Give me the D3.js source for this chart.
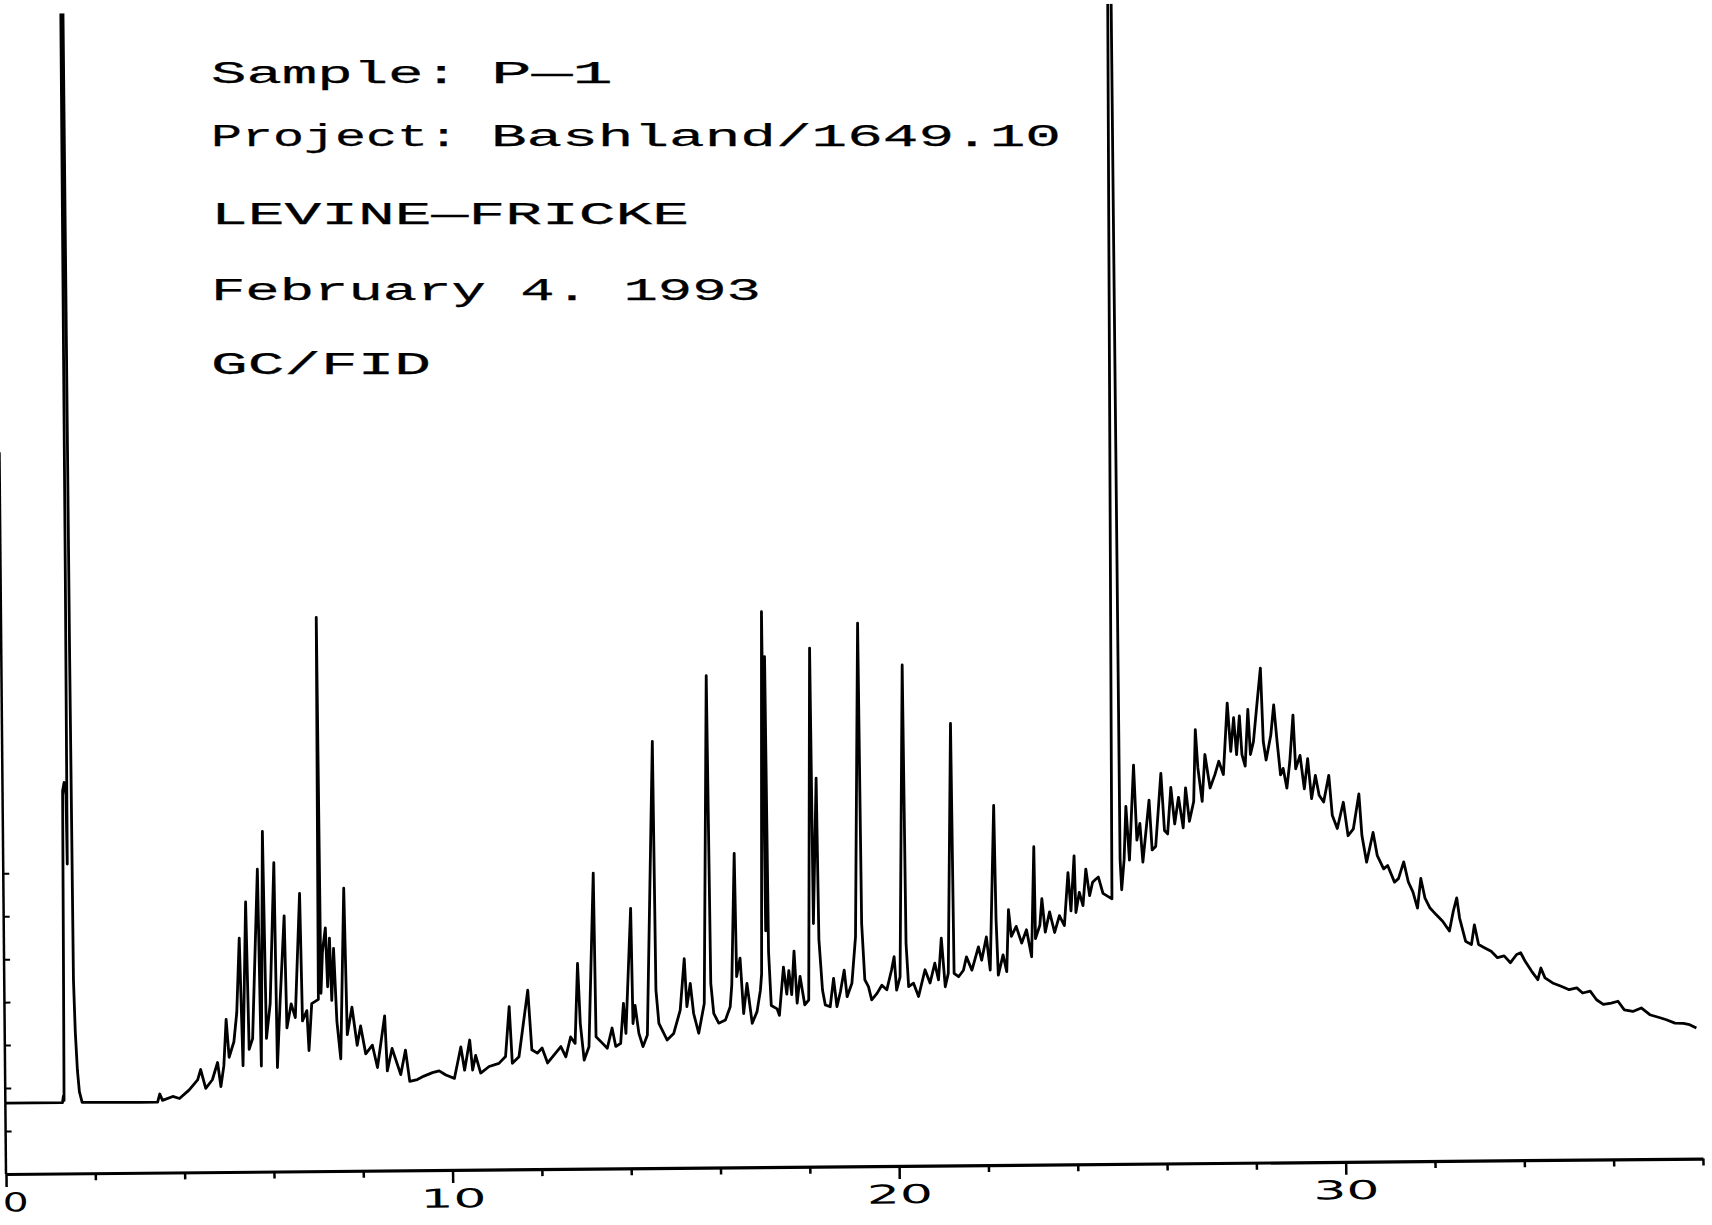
<!DOCTYPE html>
<html>
<head>
<meta charset="utf-8">
<script src="https://cdn.jsdelivr.net/npm/d3@7"></script>
<style>
  body { margin: 0; background: #fff; }
  svg { display: block; background: #fff; }
</style>
</head>
<body>
<div class="chromatogram"></div>
<script>
// ---- Data
// retention time (min) and detector response (arbitrary units)
const retentionTime = [
  0.00,1.28,1.30,1.315,1.33,1.345,1.38,1.42,1.435,1.45,
  1.465,1.51,1.53,1.55,1.58,1.62,1.66,1.72,3.00,3.41,
  3.46,3.52,3.75,3.90,4.12,4.31,4.38,4.49,4.64,4.76,
  4.83,4.90,4.96,5.02,5.13,5.20,5.27,5.33,5.42,5.47,
  5.55,5.69,5.74,5.81,5.86,5.95,6.06,6.10,6.17,6.28,
  6.32,6.42,6.51,6.63,6.67,6.77,6.81,6.88,7.03,7.06,
  7.09,7.13,7.20,7.24,7.29,7.33,7.38,7.44,7.52,7.62,
  7.67,7.78,7.89,7.97,8.08,8.23,8.34,8.51,8.56,8.67,
  8.86,8.97,9.06,9.23,9.38,9.57,9.72,9.87,10.06,10.21,
  10.29,10.41,10.47,10.54,10.65,10.84,11.06,11.21,11.30,11.36,
  11.51,11.72,11.80,11.92,12.03,12.15,12.33,12.45,12.56,12.67,
  12.77,12.84,12.89,12.97,13.08,13.21,13.24,13.38,13.49,13.60,
  13.68,13.79,13.86,13.91,14.04,14.07,14.12,14.20,14.29,14.39,
  14.56,14.59,14.65,14.83,14.98,15.13,15.23,15.28,15.36,15.43,
  15.54,15.67,15.78,15.82,15.88,15.99,16.14,16.25,16.29,16.37,
  16.40,16.48,16.55,16.63,16.74,16.85,16.93,16.96,17.03,17.06,
  17.09,17.12,17.17,17.30,17.35,17.45,17.52,17.57,17.63,17.69,
  17.75,17.82,17.92,18.01,18.10,18.13,18.22,18.25,18.32,18.38,
  18.49,18.57,18.64,18.72,18.81,18.87,18.98,19.07,19.18,19.21,
  19.27,19.35,19.42,19.54,19.65,19.76,19.87,19.93,19.98,20.06,
  20.17,20.20,20.25,20.36,20.47,20.62,20.73,20.84,20.92,20.99,
  21.07,21.14,21.24,21.27,21.37,21.48,21.55,21.67,21.82,21.89,
  22.00,22.08,22.19,22.22,22.26,22.37,22.45,22.50,22.56,22.67,
  22.79,22.90,23.01,23.08,23.10,23.20,23.25,23.32,23.42,23.53,
  23.64,23.75,23.84,23.90,23.98,24.01,24.09,24.17,24.24,24.32,
  24.39,24.46,24.52,24.62,24.82,24.92,24.98,25.01,25.04,25.10,
  25.15,25.22,25.33,25.39,25.46,25.52,25.67,25.73,25.81,25.94,
  26.01,26.08,26.16,26.24,26.33,26.43,26.49,26.57,26.67,26.72,
  26.77,26.86,26.93,27.04,27.15,27.24,27.34,27.44,27.51,27.58,
  27.64,27.71,27.76,27.83,27.90,27.95,28.02,28.10,28.19,28.24,
  28.30,28.41,28.48,28.55,28.62,28.68,28.76,28.83,28.91,28.96,
  29.06,29.15,29.23,29.31,29.40,29.48,29.58,29.70,29.77,29.88,
  30.02,30.12,30.24,30.37,30.43,30.53,30.68,30.77,30.91,31.00,
  31.15,31.24,31.36,31.46,31.56,31.66,31.74,31.83,31.94,32.08,
  32.22,32.37,32.46,32.54,32.60,32.73,32.86,32.93,33.02,33.16,
  33.30,33.44,33.59,33.73,33.87,33.96,34.06,34.20,34.34,34.41,
  34.50,34.67,34.86,35.04,35.21,35.34,35.51,35.65,35.80,35.98,
  36.13,36.27,36.46,36.65,36.84,37.03,37.21,37.40,37.59,37.73,
  37.88
];

const response = [
  16.5,16.5,18.0,17.0,50,89,91,88,72,140,
  290,290,120,45,33,24,19,16.5,16.4,16.4,
  18.3,16.8,17.7,17.2,19.2,21.5,23.9,19.5,21.5,25.5,
  19.9,24.7,35.5,26.7,30.3,37.1,54.4,24.7,62.8,28.5,
  31.0,70.4,24.6,79.2,31.0,39.1,71.9,24.2,39.0,59.5,
  33.4,39.0,35.8,64.7,35.0,37.4,28.1,39.0,40.0,128.9,
  41.4,51.0,56.6,42.9,54.2,39.7,51.8,34.9,26.1,65.8,
  31.7,38.1,29.2,33.7,27.2,29.2,24.0,36.0,23.2,28.4,
  22.3,28.0,20.7,21.1,21.9,22.7,23.1,22.1,21.3,28.6,
  23.2,30.2,23.2,26.6,22.5,24.0,24.7,26.3,37.9,24.7,
  26.2,41.7,27.8,27.0,28.2,24.7,27.0,28.5,26.1,30.7,
  29.2,47.8,33.8,25.3,28.4,68.8,30.7,29.2,28.0,32.7,
  28.4,29.1,38.4,31.4,60.5,33.7,37.9,31.4,28.3,31.0,
  99.3,41.5,33.7,29.8,31.3,36.7,48.7,37.5,42.9,35.9,
  31.3,38.2,114.5,42.9,35.9,33.6,34.3,37.4,42.5,73.1,
  44.4,48.7,35.8,42.8,33.5,36.2,41.2,45.0,129.3,55.0,
  118.8,50.1,37.6,36.8,35.3,46.5,40.2,45.7,40.1,50.2,
  38.1,44.3,37.7,38.8,120.7,56.6,90.4,52.8,41.1,37.6,
  37.2,43.8,37.2,40.6,45.7,39.5,42.6,53.4,126.4,56.5,
  43.4,41.8,38.7,40.2,42.1,41.0,45.6,48.7,40.9,44.0,
  116.6,51.8,41.7,42.5,39.4,45.6,42.5,47.1,43.2,52.9,
  41.6,44.7,102.9,44.7,43.9,45.4,48.5,45.4,50.8,47.7,
  53.1,45.4,83.7,57.3,44.2,48.9,45.0,59.4,53.2,55.5,
  51.6,54.7,48.4,74.0,52.6,55.7,61.9,54.1,58.8,54.0,
  57.9,55.6,67.9,59.0,71.8,58.6,63.3,60.2,68.7,62.5,
  65.6,66.3,66.8,63.0,61.7,300,300,70.8,63.8,70.8,
  83.2,70.7,92.8,75.3,79.2,70.2,84.6,73.0,73.8,90.8,
  77.5,76.7,87.5,79.0,85.2,78.1,87.4,79.6,84.2,100.9,
  92.0,84.2,95.1,87.3,90.4,93.5,90.4,107.0,95.8,103.6,
  95.0,104.0,95.0,92.3,105.5,95.0,98.0,106.2,115.1,98.0,
  93.7,99.5,106.5,97.9,90.2,91.7,87.1,93.3,104.1,91.6,
  94.7,86.9,93.9,84.6,90.0,85.4,83.8,90.0,80.7,77.6,
  83.7,75.9,77.5,85.6,75.9,69.7,76.6,71.2,68.1,68.9,
  65.0,65.8,69.7,65.0,62.7,58.9,65.8,61.2,58.9,57.3,
  55.8,53.5,58.1,61.2,56.5,51.1,50.3,54.9,50.3,49.5,
  48.7,47.2,47.6,46.0,47.9,48.3,46.3,44.0,42.0,44.7,
  42.4,41.2,40.4,39.6,40.0,38.8,39.2,37.2,36.1,36.4,
  36.8,34.8,34.4,35.2,33.6,33.0,32.4,31.6,31.5,31.2,
  30.4
];

// axis ticks (minutes / response units)
const xMajorTicks = [0, 10, 20, 30];
const xMinorTicks = [2, 4, 6, 8, 12, 14, 16, 18, 22, 24, 26, 28, 32, 34, 36, 38];
const yTicks = [10, 20, 30, 40, 50, 60, 70];

// header printed on the chart
const headerLines = [
  "Sample: P\u20141",
  "Project: Bashland/1649.10",
  "LEVINE\u2014FRICKE",
  "February 4. 1993",
  "GC/FID"
];

if (retentionTime.length !== response.length) {
  console.error("data length mismatch", retentionTime.length, response.length);
}

// ---- layout
const svgWidth = 1712, svgHeight = 1225;
const origin = {x: 6, y: 1174};
const plotRight = 1703, plotTop = 14;
const tilt = -0.52;          // the scanned page sits slightly rotated
const yAxisTop = 168;        // the printed y axis stops part way up
// header: "label: value" lines have the value in a second column
const headerLayout = {
  x: 211,
  valueX: 491,
  baselines: [83, 146, 224, 300, 374],
  labelWidths: [248, 248, 478, 550, 220],
  valueWidths: [122, 570, 0, 0, 0]
};

const svg = d3.select(".chromatogram")
  .append("svg")
    .attr("width", svgWidth)
    .attr("height", svgHeight);

// ---- scales
const x = d3.scaleLinear()
  .domain([0, 38])
  .range([origin.x, plotRight]);

const y = d3.scaleLinear()
  .domain([0, 270])
  .range([origin.y, plotTop]);

const plot = svg.append("g")
  .attr("transform", `rotate(${tilt},${origin.x},${origin.y})`);

svg.append("defs")
  .append("clipPath")
    .attr("id", "plot-clip")
  .append("rect")
    .attr("x", x(0) - 10)
    .attr("y", y(270))
    .attr("width", x(38) - x(0) + 20)
    .attr("height", y(0) - y(270) + 40);

// ---- X axis: minor ticks every 2 min, longer labelled ticks every 10
plot.append("g")
    .attr("transform", `translate(0,${origin.y})`)
    .call(d3.axisBottom(x).tickValues(xMinorTicks).tickSize(7).tickSizeOuter(0).tickFormat(""))
    .call(g => g.select(".domain").attr("stroke-width", 3.2))
    .call(g => g.selectAll(".tick line").attr("stroke-width", 2.5));

plot.append("g")
    .attr("transform", `translate(0,${origin.y})`)
    .attr("class", "x-major")
    .call(d3.axisBottom(x).tickValues(xMajorTicks).tickSize(13).tickSizeOuter(0).tickFormat(d3.format("d")))
    .call(g => g.select(".domain").remove())
    .call(g => g.selectAll(".tick line").attr("stroke-width", 2.5))
    .attr("font-family", "'DejaVu Sans', sans-serif")
    .attr("font-size", 26)
    .call(g => g.selectAll(".tick text")
        .attr("y", 19)
        .attr("dy", "0.71em")
        .attr("fill", "#000")
        .attr("textLength", d => d === 0 ? 26 : 66)
        .attr("lengthAdjust", "spacingAndGlyphs"))
    // the zero sits hard against the left edge of the sheet
    .call(g => g.selectAll(".tick text").filter(d => d === 0)
        .attr("text-anchor", "start")
        .attr("x", -4));

// ---- Y axis: bare line with small inward ticks
plot.append("line")
    .attr("x1", x(0)).attr("x2", x(0))
    .attr("y1", y(0)).attr("y2", y(yAxisTop))
    .attr("stroke", "#000")
    .attr("stroke-width", 2.5);

plot.append("g")
    .attr("transform", `translate(${x(0)},0)`)
    .call(d3.axisRight(y).tickValues(yTicks).tickSize(6).tickFormat(""))
    .call(g => g.select(".domain").remove())
    .call(g => g.selectAll(".tick line").attr("stroke-width", 2));

// ---- Trace
const points = d3.zip(retentionTime, response);
const trace = d3.line()
  .x(d => x(d[0]))
  .y(d => y(d[1]));

plot.append("path")
    .datum(points)
    .attr("clip-path", "url(#plot-clip)")
    .attr("fill", "none")
    .attr("stroke", "#000")
    .attr("stroke-width", 2.8)
    .attr("stroke-linejoin", "round")
    .attr("d", trace);

// ---- Header text
const header = svg.append("g")
    .attr("font-family", "'Liberation Mono', 'DejaVu Sans Mono', monospace")
    .attr("font-size", 31)
    .attr("fill", "#000")
    .attr("stroke", "#000")
    .attr("stroke-width", 0.25);

header.selectAll("text")
  .data(headerLines)
  .join("text")
    .attr("y", (d, i) => headerLayout.baselines[i])
    .each(function(d, i) {
      const cut = d.indexOf(": ");
      const parts = cut < 0 ? [d] : [d.slice(0, cut + 1), d.slice(cut + 2)];
      const t = d3.select(this);
      t.append("tspan")
          .attr("x", headerLayout.x)
          .attr("textLength", headerLayout.labelWidths[i])
          .attr("lengthAdjust", "spacingAndGlyphs")
          .text(parts[0]);
      if (parts.length > 1) {
        t.append("tspan")
            .attr("x", headerLayout.valueX)
            .attr("textLength", headerLayout.valueWidths[i])
            .attr("lengthAdjust", "spacingAndGlyphs")
            .text(parts[1]);
      }
    });
</script>
</body>
</html>
